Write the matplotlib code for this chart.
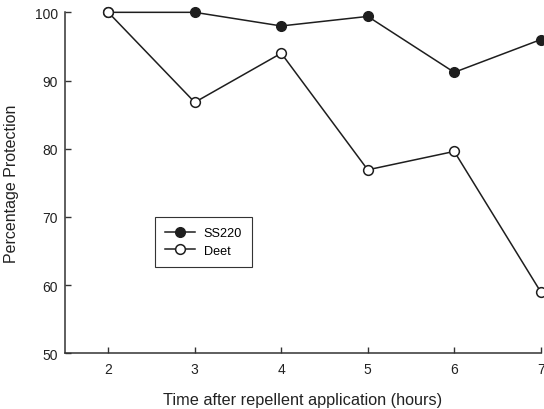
import matplotlib
matplotlib.use('Agg')
import matplotlib.pyplot as plt

plt.rcParams['font.family'] = ['Liberation Sans', 'DejaVu Sans']

# Hours after application
hours = [2, 3, 4, 5, 6, 7]
# Percentage protection
ss220 = [100, 100, 98.0, 99.4, 91.2, 96.0]
deet = [100, 86.8, 94.0, 76.9, 79.6, 59.0]

fig = plt.figure(figsize=(5.44, 4.10), dpi=100)
ax = fig.add_axes([0.1195, 0.136, 0.8745, 0.8315])

ink = '#1e1e1e'
ax.plot(hours, ss220, '-o', color=ink, lw=1.1, ms=7,
        mfc=ink, mec=ink, label='SS220', clip_on=False, zorder=3)
ax.plot(hours, deet, '-o', color=ink, lw=1.1, ms=7,
        mfc='white', mec=ink, mew=1.1, label='Deet', clip_on=False, zorder=3)

ax.set_xlim(1.5, 7)
ax.set_ylim(50, 100)
ax.set_xticks(hours)
ax.set_yticks([50, 60, 70, 80, 90, 100])

ax.spines['top'].set_visible(False)
ax.spines['right'].set_visible(False)
for s in ['left', 'bottom']:
    ax.spines[s].set_linewidth(1.1)
    ax.spines[s].set_color('#333333')

ax.tick_params(axis='x', direction='in', length=4, width=1.0, pad=6.5,
               labelsize=10, colors='#333333', labelcolor='#222222')
ax.tick_params(axis='y', direction='in', length=4, width=1.0, pad=5,
               labelsize=10, colors='#333333', labelcolor='#222222')

ax.set_xlabel('Time after repellent application (hours)', fontsize=11.7,
              color='#222222')
ax.set_ylabel('Percentage Protection', fontsize=11.5, color='#222222')
ax.xaxis.set_label_coords(0.5, -0.114)
ax.yaxis.set_label_coords(-0.097, 0.5)

leg = ax.legend(loc='upper left', bbox_to_anchor=(0.189, 0.40), borderaxespad=0,
                fontsize=9.1, fancybox=False, framealpha=1, edgecolor='#333333',
                handlelength=2.4, handletextpad=0.65, borderpad=0.8,
                labelspacing=0.45)
leg.get_frame().set_linewidth(0.8)

plt.savefig('out.png', dpi=100)
